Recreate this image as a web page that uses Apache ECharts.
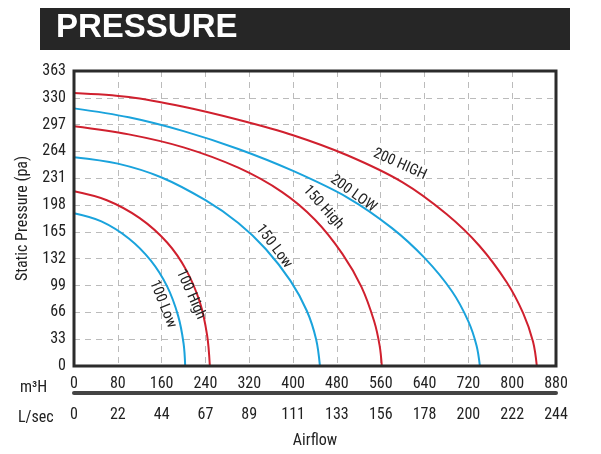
<!DOCTYPE html>
<html><head><meta charset="utf-8">
<script src="https://cdn.jsdelivr.net/npm/echarts@6/dist/echarts.min.js"></script>
<style>html,body{margin:0;padding:0;background:#fff}#c{width:601px;height:454px}</style>
</head><body><div id="c"></div>
<script>
const m3hTicks = [0,80,160,240,320,400,480,560,640,720,800,880];
const lsecTicks = [0,22,44,67,89,111,133,156,178,200,222,244];
const pressureTicks = [0,33,66,99,132,165,198,231,264,297,330,363];
const h200 = [[0,336],[100,331],[200,319],[300,303],[400,284],[500,259],[600,226],[680,187],[740,148],[790,103],[820,65],[838,30],[845,0]];
const l200 = [[0,317],[100,306],[200,289],[300,267],[400,240],[500,207],[580,170],[640,133],[690,92],[720,55],[735,25],[741,0]];
const h150 = [[0,295],[100,285],[200,269],[300,244],[380,214],[440,180],[490,138],[525,97],[548,55],[558,25],[562,0]];
const l150 = [[0,257],[80,249],[160,232],[240,204],[300,176],[350,144],[395,105],[425,68],[442,33],[449,0]];
const h100 = [[0,215],[60,204],[120,182],[170,152],[205,118],[230,78],[243,38],[248,0]];
const l100 = [[0,188],[50,178],[100,157],[140,130],[170,98],[190,62],[200,28],[203,0]];
const labels = [
  ['200 HIGH',595,248,-24,'h200'],['200 LOW',510,212,-36,'l200'],['150 High',455,195,-48,'h150'],
  ['150 Low',365,147,-53,'l150'],['100 High',213,88,-66,'h100'],['100 Low',162,76,-68,'l100']];
const RED='#d0202e', BLUE='#1aa3dc';
const F='"Liberation Sans Narrow","Roboto Condensed","Liberation Sans",Arial,sans-serif';
const curves={h200,l200,h150,l150,h100,l100};
const series = Object.keys(curves).map(k=>{
  const lab = labels.find(l=>l[4]===k);
  return {type:'line',data:curves[k],smooth:0.35,symbol:'none',xAxisIndex:0,
    lineStyle:{color:k[0]==='h'?RED:BLUE,width:2},
    markPoint:{symbol:'circle',symbolSize:0,data:[{coord:[lab[1],lab[2]],
      label:{show:true,formatter:lab[0],rotate:lab[3],color:'#222',fontSize:15,fontFamily:F,position:'inside'}}]}};
});
const chart = echarts.init(document.getElementById('c'));
chart.setOption({
  animation:false,
  grid:{left:74,right:45,top:71,bottom:84,show:true,borderColor:'#2b2b2b',borderWidth:3,z:5},
  graphic:[
    {type:'rect',shape:{x:40,y:8,width:530,height:42},style:{fill:'#262626'}},
    {type:'text',left:56,top:11,style:{text:'PRESSURE',fill:'#fff',font:'bold 33px "Liberation Sans",Arial'}},
    {type:'text',left:20,top:380,style:{text:'m³H',fill:'#222',font:'16px '+F}},
    {type:'text',left:18,top:410,style:{text:'L/sec',fill:'#222',font:'16px '+F}}
  ],
  xAxis:[
    {type:'value',min:0,max:880,interval:80,position:'bottom',
      axisLine:{show:false},axisTick:{show:false},
      axisLabel:{color:'#222',fontSize:16,fontFamily:F,margin:10},
      splitLine:{show:true,lineStyle:{type:[6,5],color:'#bbb',width:1}}},
    {type:'value',min:0,max:880,interval:80,position:'bottom',offset:27,
      axisLine:{show:true,lineStyle:{color:'#444',width:4}},axisTick:{show:false},
      axisLabel:{color:'#222',fontSize:16,fontFamily:F,margin:14,
        formatter:(v)=>String(lsecTicks[m3hTicks.indexOf(v)])},
      splitLine:{show:false},
      name:'Airflow',nameLocation:'middle',nameGap:40,nameTextStyle:{color:'#222',fontSize:16,fontFamily:F}}
  ],
  yAxis:{type:'value',min:0,max:363,interval:33,
    axisLine:{show:false},axisTick:{show:false},
    axisLabel:{color:'#222',fontSize:16,fontFamily:F,margin:8,formatter:v=>pressureTicks.includes(v)?String(v):''},
    splitLine:{show:true,lineStyle:{type:[6,5],color:'#bbb',width:1}},
    name:'Static Pressure (pa)',nameLocation:'middle',nameGap:42,nameRotate:90,
    nameTextStyle:{color:'#222',fontSize:16,fontFamily:F}},
  series
});
</script></body></html>
